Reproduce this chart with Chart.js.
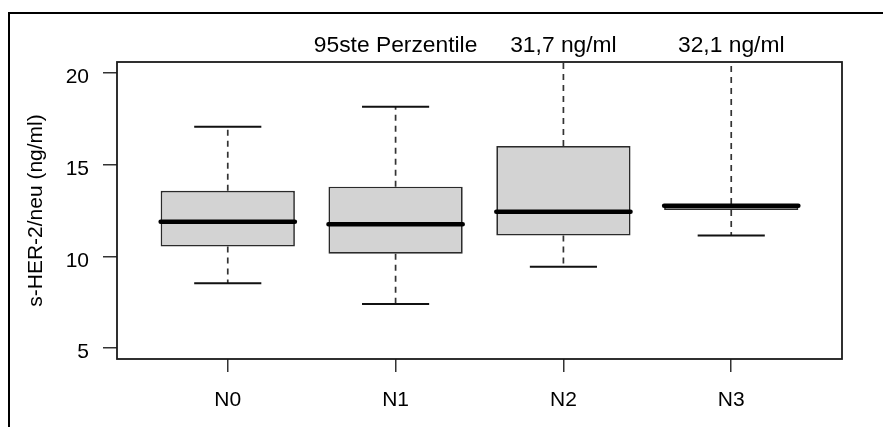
<!DOCTYPE html>
<html>
<head>
<meta charset="utf-8">
<script src="https://cdn.jsdelivr.net/npm/chart.js@4/dist/chart.umd.min.js"></script>
<style>
  html, body { margin: 0; padding: 0; background: #fff; }
  #wrap { width: 883px; height: 427px; position: relative; }
</style>
</head>
<body>
<div id="wrap"><canvas id="c" width="883" height="427"></canvas></div>
<script>
// s-HER-2/neu by nodal status: box plot summary per group
const categories  = ['N0', 'N1', 'N2', 'N3'];
const whiskerLow  = [8.53, 7.40, 9.43, 11.13];
const q1          = [10.53, 10.14, 11.13, 12.53];
const median      = [11.89, 11.75, 12.43, 12.76];
const q3          = [13.58, 13.80, 16.02, 12.85];
const whiskerHigh = [17.07, 18.16, 31.7, 32.1];
const topNotes    = ['', '95ste Perzentile', '31,7 ng/ml', '32,1 ng/ml'];
const yTicks      = [5, 10, 15, 20];

const FONT = '"Liberation Sans", Arial, Helvetica, sans-serif';

// boxes as floating bars, whiskers / caps / medians as broken line datasets
const boxData = categories.map((c, i) => ({ x: i + 1, y: [q1[i], q3[i]] }));
const whiskerData = [];
const capData = [];
const medianData = [];
categories.forEach((c, i) => {
  const x = i + 1;
  whiskerData.push({ x, y: q3[i] }, { x, y: whiskerHigh[i] }, { x, y: null },
                   { x, y: q1[i] }, { x, y: whiskerLow[i] }, { x, y: null });
  capData.push({ x: x - 0.2, y: whiskerHigh[i] }, { x: x + 0.2, y: whiskerHigh[i] }, { x: x + 0.2, y: null },
               { x: x - 0.2, y: whiskerLow[i] }, { x: x + 0.2, y: whiskerLow[i] }, { x: x + 0.2, y: null });
  medianData.push({ x: x - 0.4, y: median[i] }, { x: x + 0.4, y: median[i] }, { x: x + 0.4, y: null });
});

// outer frame, plot box and the notes above the plot
const decor = {
  id: 'decor',
  beforeDraw(chart) {
    const ctx = chart.ctx;
    ctx.save();
    ctx.fillStyle = '#000';
    ctx.fillRect(8, 12, 875, 2);
    ctx.fillRect(8, 12, 2, 415);
    ctx.restore();
  },
  afterDraw(chart) {
    const { ctx, chartArea: a } = chart;
    const xs = chart.scales.x;
    ctx.save();
    ctx.strokeStyle = '#1a1a1a';
    ctx.lineWidth = 1.8;
    ctx.strokeRect(a.left, a.top, a.right - a.left, a.bottom - a.top);
    ctx.fillStyle = '#000';
    ctx.font = '22.8px ' + FONT;
    ctx.textAlign = 'center';
    ctx.textBaseline = 'alphabetic';
    topNotes.forEach((t, i) => {
      if (t) ctx.fillText(t, xs.getPixelForValue(i + 1), 51.5);
    });
    ctx.restore();
  }
};

new Chart(document.getElementById('c'), {
  type: 'bar',
  data: {
    datasets: [
      {
        type: 'line', data: medianData, order: 0,
        borderColor: '#000', borderWidth: 4.5, borderCapStyle: 'round',
        pointRadius: 0, spanGaps: false
      },
      {
        type: 'line', data: capData, order: 1,
        borderColor: '#111', borderWidth: 2, borderCapStyle: 'butt',
        pointRadius: 0, spanGaps: false
      },
      {
        type: 'line', data: whiskerData, order: 2,
        borderColor: '#333', borderWidth: 1.7, borderDash: [6, 5], borderCapStyle: 'butt',
        pointRadius: 0, spanGaps: false
      },
      {
        type: 'bar', data: boxData, order: 3,
        backgroundColor: '#d3d3d3', borderColor: '#2a2a2a', borderWidth: 1.7,
        borderSkipped: false, categoryPercentage: 1.0, barPercentage: 0.8
      }
    ]
  },
  options: {
    responsive: false,
    animation: false,
    events: [],
    layout: { padding: { top: 62, right: 41, left: 0, bottom: 0 } },
    plugins: { legend: { display: false }, tooltip: { enabled: false } },
    scales: {
      x: {
        type: 'linear', min: 0.34, max: 4.66, offset: false,
        afterBuildTicks(s) { s.ticks = categories.map((c, i) => ({ value: i + 1 })); },
        afterFit(s) { s.height = 68; },
        grid: { display: true, offset: false, drawOnChartArea: false, drawTicks: true, tickLength: 13, color: '#333', lineWidth: 1.5 },
        border: { display: false },
        ticks: {
          padding: 16, color: '#000', font: { family: FONT, size: 21 }, maxRotation: 0,
          callback: (v) => categories[Math.round(v) - 1]
        }
      },
      y: {
        type: 'linear', min: 4.4, max: 20.6,
        afterBuildTicks(s) { s.ticks = yTicks.map(v => ({ value: v })); },
        afterFit(s) { s.width = 117; },
        grid: { display: true, drawOnChartArea: false, drawTicks: true, tickLength: 14, color: '#333', lineWidth: 1.5 },
        border: { display: false },
        ticks: {
          padding: 14, labelOffset: 4.5, color: '#000', font: { family: FONT, size: 21 },
          callback: (v) => String(v)
        },
        title: {
          display: true, text: 's-HER-2/neu (ng/ml)', color: '#000',
          font: { family: FONT, size: 21 }, padding: { top: 24, bottom: 0 }
        }
      }
    }
  },
  plugins: [decor]
});
</script>
</body>
</html>
